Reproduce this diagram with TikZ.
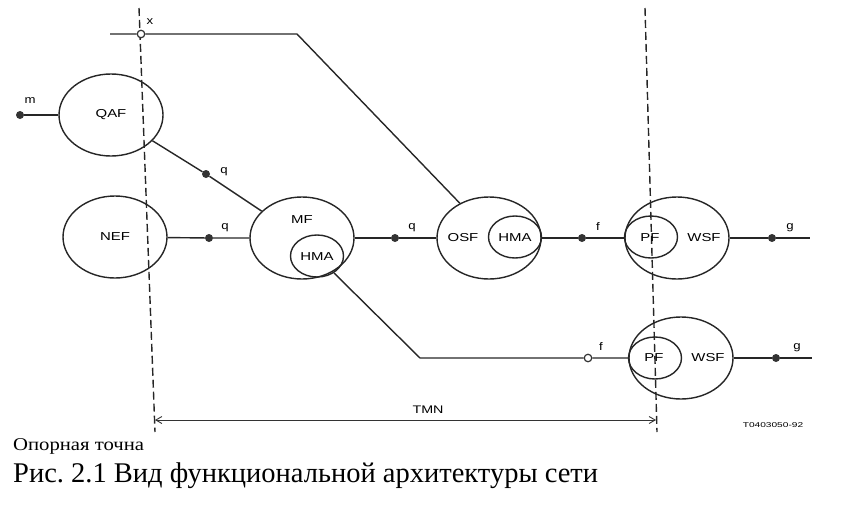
\documentclass[tikz,border=0pt]{standalone}
\usepackage{fontspec}
\setmainfont{Liberation Serif}
\newfontfamily\lsans{Liberation Sans}
\usetikzlibrary{shapes.geometric,arrows.meta}
\newcommand{\mywide}[2][1.3]{\scalebox{#1}[1]{#2}}
\frenchspacing
\tikzset{
  fblock/.style={ellipse,draw=black!85,line width=1.4pt,inner sep=0pt},
  big/.style={fblock,minimum width=104pt,minimum height=82pt},
  small/.style={fblock,minimum width=53pt,minimum height=42pt},
  lbl/.style={font=\lsans\fontsize{11.5}{12}\selectfont,inner sep=0pt},
  ref/.style={font=\lsans\fontsize{11}{12}\selectfont,inner sep=0pt},
  dotf/.style={circle,fill=black!80,inner sep=0pt,minimum size=8pt},
  doto/.style={circle,draw=black!80,fill=white,line width=1.2pt,inner sep=0pt,minimum size=7.5pt},
  conn/.style={line width=1.4pt,draw=black!85},
  bound/.style={line width=1.4pt,draw=black!85,dash pattern=on 8pt off 4pt},
}
\begin{document}
\begin{tikzpicture}[x=1pt,y=-1pt]
\useasboundingbox (0,0) rectangle (842,514);
% boundaries
\coordinate (lt) at (139,8);
\coordinate (lb) at (155,432);
\coordinate (rt) at (645,8);
\coordinate (rb) at (657,432);
\draw[bound] (lt) -- (lb);
\draw[bound] (rt) -- (rb);
% blocks
\node[big] (qaf) at (111,115) {};
\node[lbl] (qaft) at (111,115) {\mywide{QAF}};
\node[big] (nef) at (115,237) {};
\node[lbl] (neft) at (115,237) {\mywide{NEF}};
\node[big] (mf) at (302,238) {};
\node[lbl] (mft) at (302,220) {\mywide{MF}};
\node[small] (hma1) at (317,256) {};
\node[lbl] (hma1t) at (317,257) {\mywide{HMA}};
\node[big] (osf) at (489,238) {};
\node[lbl] (osft) at (463,238) {\mywide{OSF}};
\node[small] (hma2) at (515,237) {};
\node[lbl] (hma2t) at (515,238) {\mywide{HMA}};
\node[big] (wsf1) at (677,238) {};
\node[lbl] (wsf1t) at (704,238) {\mywide{WSF}};
\node[small] (pf1) at (651,237) {};
\node[lbl] (pf1t) at (650,238) {\mywide{PF}};
\node[big] (wsf2) at (681,358) {};
\node[lbl] (wsf2t) at (708,358) {\mywide{WSF}};
\node[small] (pf2) at (655,358) {};
\node[lbl] (pf2t) at (654,358) {\mywide{PF}};
% reference points
\node[dotf] (pm) at (20,115) {};
\node[ref] (pmt) at (30,101) {\mywide[1.2]{m}};
\node[dotf] (pq1) at (206,174) {};
\node[ref] (pq1t) at (224,172) {\mywide[1.2]{q}};
\node[dotf] (pq2) at (209,238) {};
\node[ref] (pq2t) at (225,228) {\mywide[1.2]{q}};
\node[dotf] (pq3) at (395,238) {};
\node[ref] (pq3t) at (412,228) {\mywide[1.2]{q}};
\node[dotf] (pf1d) at (582,238) {};
\node[ref] (pf1dt) at (598,227) {\mywide[1.2]{f}};
\node[dotf] (pg1) at (772,238) {};
\node[ref] (pg1t) at (790,228) {\mywide[1.2]{g}};
\node[doto] (pf2d) at (588,358) {};
\node[ref] (pf2dt) at (601,347) {\mywide[1.2]{f}};
\node[dotf] (pg2) at (776,358) {};
\node[ref] (pg2t) at (797,348) {\mywide[1.2]{g}};
\node[doto] (px) at (141,34) {};
\node[ref] (pxt) at (150,22) {\mywide[1.2]{x}};
\coordinate (xs) at (110,34);
\coordinate (xb) at (297,34);
\coordinate (hb) at (420,358);
\coordinate (g1e) at (810,238);
\coordinate (g2e) at (812,358);
% connectors
\draw[conn] (pm) -- (qaf);
\draw[conn] (qaf) -- (pq1) -- (mf);
\draw[conn] (nef) -- (pq2) -- (mf);
\draw[conn] (mf) -- (pq3) -- (osf);
\draw[conn] (osf) -- (pf1d) -- (wsf1.west);
\draw[conn] (wsf1) -- (pg1) -- (g1e);
\draw[conn] (xs) -- (px) -- (xb) -- (osf.130);
\draw[conn] (hma1.-45) -- (hb) -- (pf2d) -- (pf2.west);
\draw[conn] (wsf2) -- (pg2) -- (g2e);
% TMN span
\coordinate (ta) at (155,420);
\coordinate (tb) at (656,420);
\draw[line width=0.9pt,draw=black!80,{Straight Barb[open,length=6pt,width=7pt]}-{Straight Barb[open,length=6pt,width=7pt]}] (ta) -- (tb);
\node[ref] (tmn) at (428,410) {\mywide{TMN}};
\node[font=\lsans\fontsize{7}{8}\selectfont,inner sep=0pt] (code) at (773,425) {\mywide[1.45]{T0403050-92}};
% captions
\node[anchor=base west,inner sep=0pt,font=\fontsize{18}{19}\selectfont] (cap1) at (13,450) {\mywide[1.15]{Опорная точна}};
\node[anchor=base west,inner sep=0pt,font=\fontsize{28.5}{30}\selectfont] (cap2) at (13,482) {Рис. 2.1 Вид функциональной архитектуры сети};
\end{tikzpicture}
\end{document}
